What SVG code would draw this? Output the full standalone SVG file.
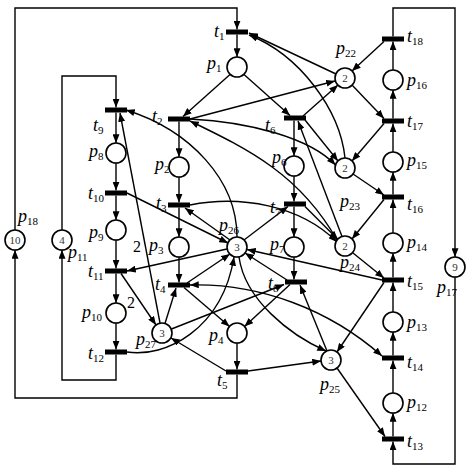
<svg xmlns="http://www.w3.org/2000/svg" width="474" height="474" viewBox="0 0 474 474">
<defs>
<marker id="a" viewBox="0 0 10 8" refX="10" refY="4" markerWidth="9" markerHeight="7" markerUnits="userSpaceOnUse" orient="auto"><path d="M0,0L10,4L0,8z" fill="#000"/></marker>
<marker id="b" viewBox="0 0 10 8" refX="10" refY="4" markerWidth="9" markerHeight="7" markerUnits="userSpaceOnUse" orient="auto-start-reverse"><path d="M0,0L10,4L0,8z" fill="#000"/></marker>
<style>
.c{fill:#fff;stroke:#000;stroke-width:1.6}
.t{fill:#000}
.e path,.e line{fill:none;stroke:#000;stroke-width:1.4;marker-end:url(#a)}
.e .d{marker-start:url(#b)}
.l{font-family:"Liberation Serif",serif;font-style:italic;font-size:18px;fill:#000}
.s{font-style:normal;font-size:11px}
.k{font-family:"Liberation Serif",serif;font-size:11px;fill:#333;text-anchor:middle}
.w{font-family:"Liberation Serif",serif;font-size:16px;fill:#000}
</style>
</defs>
<rect width="474" height="474" fill="#fff"/>
<g id="connectors" class="e">
<path d="M237,374.5 V398 H15 V250"/>
<path d="M15,230 V8 H237 V29.5"/>
<path d="M116,354.5 V380 H62 V250"/>
<path d="M62,230 V76 H116 V107.5"/>
<path d="M393,36.5 V8 H455 V257"/>
<path d="M455,277 V464 H393 V441.5"/>
<line x1="237" y1="34.5" x2="237" y2="57"/>
<line x1="230" y1="74.5" x2="183" y2="116.5"/>
<line x1="244" y1="74.5" x2="290" y2="115.5"/>
<line x1="179" y1="121.5" x2="179" y2="157"/>
<line x1="179" y1="177" x2="179" y2="202.5"/>
<line x1="179" y1="207.5" x2="179" y2="237"/>
<line x1="179" y1="257" x2="179" y2="282.5"/>
<line x1="184" y1="287.5" x2="229.5" y2="326.5"/>
<line x1="290" y1="284.5" x2="244.5" y2="326.5"/>
<line x1="237" y1="343" x2="237" y2="369.5"/>
<line x1="294" y1="120.5" x2="294" y2="156"/>
<line x1="294" y1="176" x2="294" y2="201.5"/>
<line x1="294" y1="206.5" x2="294" y2="237"/>
<line x1="294" y1="257" x2="294" y2="279.5"/>
<line x1="116" y1="112.5" x2="116" y2="143"/>
<line x1="116" y1="163" x2="116" y2="190.5"/>
<line x1="116" y1="195.5" x2="116" y2="220"/>
<line x1="116" y1="240" x2="116" y2="268.5"/>
<line x1="116" y1="273.5" x2="116" y2="303"/>
<line x1="116" y1="323" x2="116" y2="349.5"/>
<line x1="393" y1="436.5" x2="393" y2="413"/>
<line x1="393" y1="393" x2="393" y2="360.5"/>
<line x1="393" y1="355.5" x2="393" y2="332"/>
<line x1="393" y1="312" x2="393" y2="282.5"/>
<line x1="393" y1="277.5" x2="393" y2="253"/>
<line x1="393" y1="233" x2="393" y2="199.5"/>
<line x1="393" y1="194.5" x2="393" y2="172"/>
<line x1="393" y1="152" x2="393" y2="123.5"/>
<line x1="393" y1="118.5" x2="393" y2="90"/>
<line x1="393" y1="70" x2="393" y2="41.5"/>
<line x1="336" y1="74" x2="249" y2="33"/>
<line x1="190" y1="119" x2="335" y2="81"/>
<line x1="303" y1="116" x2="338" y2="85"/>
<line x1="352" y1="85" x2="384" y2="118.5"/>
<line x1="384" y1="41.5" x2="352" y2="71"/>
<line x1="353" y1="174" x2="384" y2="195"/>
<line x1="384" y1="123.5" x2="352" y2="161"/>
<line x1="305" y1="120" x2="338" y2="161"/>
<path d="M190,119 C250,122 310,138 335.5,165"/>
<path d="M345,158 C340,110 300,55 249,35"/>
<line x1="353" y1="253" x2="384" y2="278"/>
<line x1="384" y1="199.5" x2="352" y2="239"/>
<line x1="342" y1="236.5" x2="298" y2="121"/>
<line x1="305" y1="206.5" x2="338" y2="239.5"/>
<path d="M190,205 C240,195 300,205 337,242"/>
<path d="M337,240 C300,175 250,150 190,121"/>
<line x1="384" y1="282.5" x2="337" y2="352"/>
<line x1="337" y1="368" x2="385" y2="436.5"/>
<line x1="248" y1="371" x2="321" y2="361"/>
<line x1="327" y1="351" x2="300" y2="285"/>
<line x1="226" y1="371" x2="171" y2="338"/>
<line x1="165" y1="323.5" x2="176" y2="288"/>
<line x1="171.5" y1="329" x2="284" y2="284.5"/>
<line x1="160" y1="323" x2="120" y2="113"/>
<line x1="121" y1="273.5" x2="156" y2="325"/>
<line x1="127" y1="193" x2="228" y2="243"/>
<line x1="227" y1="249" x2="127" y2="271"/>
<line x1="230" y1="240" x2="185" y2="208"/>
<line x1="244" y1="240" x2="288" y2="206.5"/>
<line x1="187" y1="283" x2="230" y2="254"/>
<line x1="287" y1="280" x2="245" y2="253"/>
<line x1="382" y1="280" x2="247" y2="249.5"/>
<path d="M127,352 C165,358 222,330 234,257"/>
<path d="M237,237 C237,180 190,130 126,110"/>
<path d="M239,257 C245,300 290,335 326,351"/>
<path class="d" d="M190,285 C260,283 330,310 382,356"/>
</g>
<g id="places">
<g id="p1"><circle class="c" cx="237" cy="67" r="10"/></g>
<g id="p2"><circle class="c" cx="179" cy="167" r="10"/></g>
<g id="p3"><circle class="c" cx="179" cy="247" r="10"/></g>
<g id="p4"><circle class="c" cx="237" cy="333" r="10"/></g>
<g id="p6"><circle class="c" cx="294" cy="166" r="10"/></g>
<g id="p7"><circle class="c" cx="294" cy="247" r="10"/></g>
<g id="p8"><circle class="c" cx="116" cy="153" r="10"/></g>
<g id="p9"><circle class="c" cx="116" cy="230" r="10"/></g>
<g id="p10"><circle class="c" cx="116" cy="313" r="10"/></g>
<g id="p11"><circle class="c" cx="62" cy="240" r="10"/><text class="k" x="62" y="244">4</text></g>
<g id="p12"><circle class="c" cx="393" cy="403" r="10"/></g>
<g id="p13"><circle class="c" cx="393" cy="322" r="10"/></g>
<g id="p14"><circle class="c" cx="393" cy="243" r="10"/></g>
<g id="p15"><circle class="c" cx="393" cy="162" r="10"/></g>
<g id="p16"><circle class="c" cx="393" cy="80" r="10"/></g>
<g id="p17"><circle class="c" cx="455" cy="267" r="10"/><text class="k" x="455" y="271">9</text></g>
<g id="p18"><circle class="c" cx="15" cy="240" r="10"/><text class="k" x="15" y="244">10</text></g>
<g id="p22"><circle class="c" cx="345" cy="78" r="10"/><text class="k" x="345" y="82">2</text></g>
<g id="p23"><circle class="c" cx="345" cy="168" r="10"/><text class="k" x="345" y="172">2</text></g>
<g id="p24"><circle class="c" cx="345" cy="246" r="10"/><text class="k" x="345" y="250">2</text></g>
<g id="p25"><circle class="c" cx="331" cy="360" r="10"/><text class="k" x="331" y="364">3</text></g>
<g id="p26"><circle class="c" cx="237" cy="247" r="10"/><text class="k" x="237" y="251">3</text></g>
<g id="p27"><circle class="c" cx="162" cy="333" r="10"/><text class="k" x="162" y="337">3</text></g>
</g>
<g id="transitions">
<rect id="t1" class="t" x="226" y="29.5" width="22" height="5"/>
<rect id="t2" class="t" x="168" y="116.5" width="22" height="5"/>
<rect id="t3" class="t" x="168" y="202.5" width="22" height="5"/>
<rect id="t4" class="t" x="168" y="282.5" width="22" height="5"/>
<rect id="t5" class="t" x="226" y="369.5" width="22" height="5"/>
<rect id="t6" class="t" x="284" y="115.5" width="22" height="5"/>
<rect id="t7" class="t" x="284" y="201.5" width="22" height="5"/>
<rect id="t8" class="t" x="285" y="279.5" width="22" height="5"/>
<rect id="t9" class="t" x="105" y="107.5" width="22" height="5"/>
<rect id="t10" class="t" x="105" y="190.5" width="22" height="5"/>
<rect id="t11" class="t" x="105" y="268.5" width="22" height="5"/>
<rect id="t12" class="t" x="105" y="349.5" width="22" height="5"/>
<rect id="t13" class="t" x="382" y="436.5" width="22" height="5"/>
<rect id="t14" class="t" x="382" y="355.5" width="22" height="5"/>
<rect id="t15" class="t" x="382" y="277.5" width="22" height="5"/>
<rect id="t16" class="t" x="382" y="194.5" width="22" height="5"/>
<rect id="t17" class="t" x="382" y="118.5" width="22" height="5"/>
<rect id="t18" class="t" x="382" y="36.5" width="22" height="5"/>
</g>
<g id="labels" class="l">
<text x="214" y="37">t<tspan class="s" dy="3">1</tspan></text>
<text x="207" y="69">p<tspan class="s" dy="3">1</tspan></text>
<text x="152" y="122">t<tspan class="s" dy="3">2</tspan></text>
<text x="155" y="170">p<tspan class="s" dy="3">2</tspan></text>
<text x="156" y="209">t<tspan class="s" dy="3">3</tspan></text>
<text x="149" y="251">p<tspan class="s" dy="3">3</tspan></text>
<text x="155" y="290">t<tspan class="s" dy="3">4</tspan></text>
<text x="209" y="341">p<tspan class="s" dy="3">4</tspan></text>
<text x="217" y="386">t<tspan class="s" dy="3">5</tspan></text>
<text x="265" y="131">t<tspan class="s" dy="3">6</tspan></text>
<text x="272" y="163">p<tspan class="s" dy="3">6</tspan></text>
<text x="270" y="213">t<tspan class="s" dy="3">7</tspan></text>
<text x="270" y="250">p<tspan class="s" dy="3">7</tspan></text>
<text x="268" y="289">t<tspan class="s" dy="3">8</tspan></text>
<text x="93" y="131">t<tspan class="s" dy="3">9</tspan></text>
<text x="89" y="157">p<tspan class="s" dy="3">8</tspan></text>
<text x="88" y="199">t<tspan class="s" dy="3">10</tspan></text>
<text x="89" y="238">p<tspan class="s" dy="3">9</tspan></text>
<text x="88" y="277">t<tspan class="s" dy="3">11</tspan></text>
<text x="82" y="318">p<tspan class="s" dy="3">10</tspan></text>
<text x="88" y="359">t<tspan class="s" dy="3">12</tspan></text>
<text x="68" y="258">p<tspan class="s" dy="3">11</tspan></text>
<text x="18" y="222">p<tspan class="s" dy="3">18</tspan></text>
<text x="219" y="231">p<tspan class="s" dy="3">26</tspan></text>
<text x="136" y="345">p<tspan class="s" dy="3">27</tspan></text>
<text x="336" y="54">p<tspan class="s" dy="3">22</tspan></text>
<text x="340" y="207">p<tspan class="s" dy="3">23</tspan></text>
<text x="340" y="268">p<tspan class="s" dy="3">24</tspan></text>
<text x="320" y="390">p<tspan class="s" dy="3">25</tspan></text>
<text x="437" y="293">p<tspan class="s" dy="3">17</tspan></text>
<text x="407" y="42">t<tspan class="s" dy="3">18</tspan></text>
<text x="407" y="86">p<tspan class="s" dy="3">16</tspan></text>
<text x="407" y="127">t<tspan class="s" dy="3">17</tspan></text>
<text x="407" y="166">p<tspan class="s" dy="3">15</tspan></text>
<text x="407" y="210">t<tspan class="s" dy="3">16</tspan></text>
<text x="407" y="248">p<tspan class="s" dy="3">14</tspan></text>
<text x="407" y="287">t<tspan class="s" dy="3">15</tspan></text>
<text x="407" y="328">p<tspan class="s" dy="3">13</tspan></text>
<text x="407" y="368">t<tspan class="s" dy="3">14</tspan></text>
<text x="407" y="408">p<tspan class="s" dy="3">12</tspan></text>
<text x="407" y="447">t<tspan class="s" dy="3">13</tspan></text>
</g>
<g id="weights" class="w">
<text x="133" y="252">2</text>
<text x="127" y="308">2</text>
</g>
</svg>
